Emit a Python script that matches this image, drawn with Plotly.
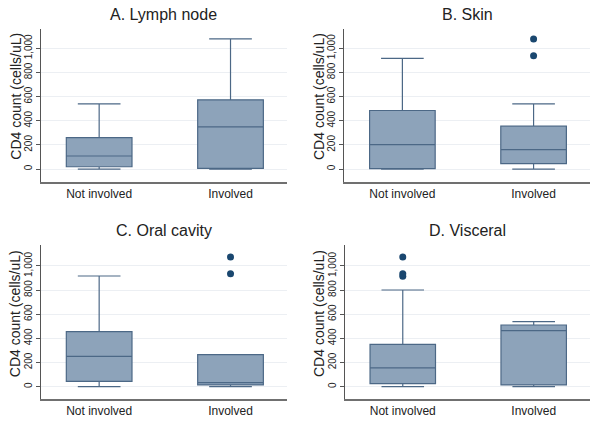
import plotly.graph_objects as go

panel_titles = ["A. Lymph node", "B. Skin", "C. Oral cavity", "D. Visceral"]
categories = ["Not involved", "Involved"]

# per panel: [Not involved, Involved]
lower = [[0, 0], [0, 0], [0, 0], [0, 0]]
q1 = [[19, 5], [3, 44], [44, 14], [25, 14]]
median = [[108, 349], [202, 161], [251, 33], [155, 464]]
q3 = [[260, 573], [485, 355], [456, 265], [351, 511]]
upper = [[540, 1078], [917, 540], [917, 265], [801, 539]]

# outliers per panel: (category, value)
outlier_cats = [[], ["Involved", "Involved"], ["Involved", "Involved"],
                ["Not involved", "Not involved", "Not involved"]]
outlier_vals = [[], [939, 1078], [936, 1075], [915, 935, 1075]]

y_ticks = [0, 200, 400, 600, 800, 1000]
y_title = "CD4 count (cells/uL)"

W, H = 600, 421
# pixel boxes of plot areas: (left, right, top, bottom)
boxes = [(40.7, 287, 29, 181.7), (344, 590, 29, 181.7),
         (40.7, 287, 245, 399.3), (344.5, 590, 245, 399.3)]
yranges = [[-105, 1160], [-105, 1160], [-105, 1174], [-105, 1174]]

FILL = "#8da3ba"
LINE = "#4c6886"
DOT = "#1a476f"
FONT = "Liberation Sans, Arial, sans-serif"

fig = go.Figure()
layout = dict(width=W, height=H, margin=dict(l=0, r=0, t=0, b=0),
              paper_bgcolor="white", plot_bgcolor="white", showlegend=False,
              font=dict(family=FONT, color="#222"))
annotations = []

for i in range(4):
    n = "" if i == 0 else str(i + 1)
    xa, ya = "x" + n, "y" + n
    fig.add_trace(go.Box(
        x=categories, q1=q1[i], median=median[i], q3=q3[i],
        lowerfence=lower[i], upperfence=upper[i],
        width=0.5, whiskerwidth=0.65, boxpoints=False,
        fillcolor=FILL, line=dict(color=LINE, width=1.2),
        xaxis=xa, yaxis=ya, hoverinfo="skip"))
    if outlier_vals[i]:
        fig.add_trace(go.Scatter(
            x=outlier_cats[i], y=outlier_vals[i], mode="markers",
            marker=dict(color=DOT, size=7), xaxis=xa, yaxis=ya,
            hoverinfo="skip"))
    l, r, t, b = boxes[i]
    xdom = [l / W, r / W]
    ydom = [1 - b / H, 1 - t / H]
    layout["xaxis" + n] = dict(
        domain=xdom, anchor=ya, type="category",
        categoryorder="array", categoryarray=categories,
        range=[-0.445, 1.43], showline=True, linecolor="#707070",
        linewidth=1.5, ticks="", showgrid=False, zeroline=False,
        tickfont=dict(size=12, color="#222"))
    layout["yaxis" + n] = dict(
        domain=ydom, anchor=xa, range=yranges[i], tickvals=y_ticks,
        tickformat=",d", tickangle=-90, ticks="outside", ticklen=4,
        tickcolor="#555", tickwidth=1, showline=True, linecolor="#555",
        linewidth=1, showgrid=True, gridcolor="#eceff3", gridwidth=1,
        zeroline=False, tickfont=dict(size=10, color="#222"))
    annotations.append(dict(
        text=panel_titles[i], xref="paper", yref="paper",
        x=(l + r) / 2 / W, y=1 - (t - 14.5) / H, xanchor="center",
        yanchor="middle", showarrow=False,
        font=dict(size=16, color="#222", family=FONT)))
    annotations.append(dict(
        text=y_title, xref="paper", yref="paper",
        x=(l - 25.5) / W, y=1 - (t + 67.5 + (1.5 if i > 1 else 0)) / H,
        xanchor="center", yanchor="middle", textangle=-90, showarrow=False,
        font=dict(size=14, color="#222", family=FONT)))

layout["annotations"] = annotations
fig.update_layout(**layout)
fig.write_html("out.html", config={"displayModeBar": False},
               post_script="document.body.style.margin='0';"
                           "document.body.style.overflow='hidden';")
